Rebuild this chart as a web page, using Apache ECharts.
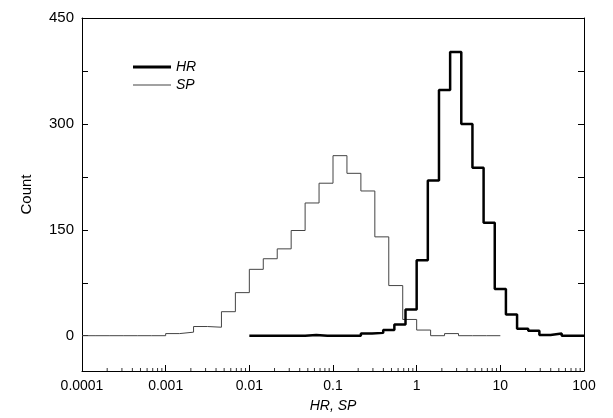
<!DOCTYPE html>
<html><head><meta charset="utf-8">
<script src="https://cdn.jsdelivr.net/npm/echarts@6/dist/echarts.min.js"></script>
<style>html,body{margin:0;padding:0;background:#fff}#c{width:613px;height:418px}</style>
</head><body><div id="c"></div>
<script>
// SP: bins of 1/6 decade starting at 1e-4
var spStart = -4, spStep = 1 / 6;
var spCounts = [0,0,0,0,0,0, 3,5,13,12,34,61,94,109,123,149,188,216,255,230,205,140,71,23,8, 0,3,0,0,0];
// HR: 30 bins from 1e-2 to 1e2
var hrStart = -2, hrStep = 4 / 30;
var hrCounts = [0,0,0,0,0,1,0,0,0,0, 3,4,8,16,37,107,220,348,402,300,238,160,66,30,10,7,1,3,0,0];
var yTicks = [0, 150, 300, 450];
var yMinorTicks = [0, 75, 150, 225, 300, 375, 450];

function steps(start, step, counts) {
    var pts = [];
    for (var i = 0; i < counts.length; i++) {
        pts.push([Math.pow(10, start + i * step), counts[i]]);
    }
    pts.push([Math.pow(10, start + counts.length * step), counts[counts.length - 1]]);
    return pts;
}

var minorX = [];
for (var d = -4; d < 2; d++) {
    for (var m = 2; m <= 9; m++) minorX.push(m * Math.pow(10, d));
}

var font = 'Liberation Sans, Arial, sans-serif';
var axisLine = {show: true, onZero: false, lineStyle: {color: '#000', width: 1}};
var legendText = {fontFamily: font, fontSize: 14, fontStyle: 'italic', color: '#000'};
var chart = echarts.init(document.getElementById('c'));
chart.setOption({
    animation: false,
    grid: {left: 82, right: 29, top: 18, bottom: 47},
    legend: [{
        left: 128, top: 55, itemWidth: 38, itemHeight: 3, icon: 'rect',
        textStyle: legendText, data: ['HR']
    }, {
        left: 128, top: 73, itemWidth: 38, itemHeight: 1, icon: 'rect',
        textStyle: legendText, data: ['SP']
    }],
    xAxis: [{
        type: 'log', logBase: 10, min: 0.0001, max: 100,
        name: 'HR, SP', nameLocation: 'middle', nameGap: 28,
        nameTextStyle: {fontFamily: font, fontSize: 14, fontStyle: 'italic', color: '#000'},
        axisLine: axisLine,
        axisTick: {inside: true, length: 6, lineStyle: {color: '#000'}},
        axisLabel: {fontFamily: font, fontSize: 14, color: '#000', margin: 8,
            formatter: function (v) { return String(+(+v).toPrecision(1)); }},
        splitLine: {show: false}
    }, {
        type: 'log', logBase: 10, min: 0.0001, max: 100, position: 'top',
        axisLine: axisLine, axisTick: {show: false}, axisLabel: {show: false}, splitLine: {show: false}
    }],
    yAxis: [{
        type: 'value', min: -50, max: 450,
        name: 'Count', nameLocation: 'middle', nameGap: 48,
        nameTextStyle: {fontFamily: font, fontSize: 15, color: '#000'},
        axisLine: axisLine,
        axisTick: {inside: true, length: 6, lineStyle: {color: '#000'}, customValues: yMinorTicks},
        axisLabel: {fontFamily: font, fontSize: 15, color: '#000', customValues: yTicks},
        splitLine: {show: false}
    }, {
        type: 'value', min: -50, max: 450, position: 'right',
        axisLine: axisLine,
        axisTick: {inside: true, length: 6, lineStyle: {color: '#000'}, customValues: yMinorTicks},
        axisLabel: {show: false}, splitLine: {show: false}
    }],
    series: [{
        name: 'HR', type: 'line', step: 'end', symbol: 'none',
        color: '#000', lineStyle: {color: '#000', width: 2.5},
        data: steps(hrStart, hrStep, hrCounts), z: 3
    }, {
        name: 'SP', type: 'line', step: 'end', symbol: 'none',
        color: '#444', lineStyle: {color: '#444', width: 1},
        data: steps(spStart, spStep, spCounts), z: 2
    }, {
        // minor ticks on log x axis
        type: 'scatter', symbol: 'rect', symbolSize: [1, 3], symbolOffset: [0, -1.5],
        itemStyle: {color: '#000'}, silent: true, clip: false,
        data: minorX.map(function (v) { return [v, -50]; })
    }]
});
</script></body></html>
